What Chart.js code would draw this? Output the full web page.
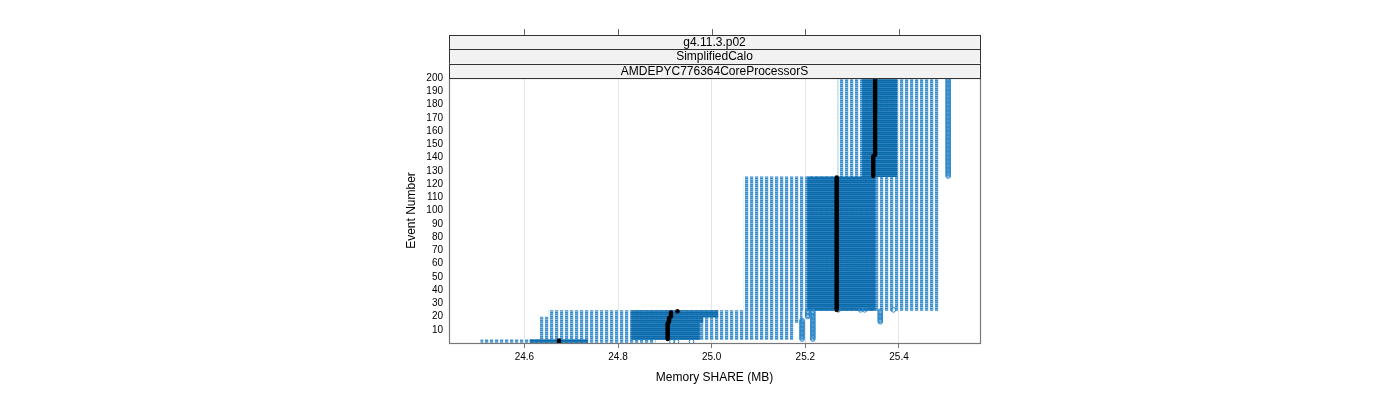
<!DOCTYPE html>
<html><head><meta charset="utf-8">
<script src="https://cdn.jsdelivr.net/npm/chart.js@4"></script>
<style>html,body{margin:0;padding:0;background:#fff}canvas{display:block}</style>
</head><body>
<canvas id="c" width="1400" height="400"></canvas>
<script>
// ---- data ----
const stripLabels = ["g4.11.3.p02", "SimplifiedCalo", "AMDEPYC776364CoreProcessorS"];
const xTitle = "Memory SHARE (MB)";
const yTitle = "Event Number";
const xTickValues = [24.6, 24.8, 25.0, 25.2, 25.4];
const xTickLabels = ["24.6", "24.8", "25.0", "25.2", "25.4"];
const yTickValues = [10,20,30,40,50,60,70,80,90,100,110,120,130,140,150,160,170,180,190,200];

// box-and-whisker statistics per block of events
const groupFirstEvent = [1, 3, 16, 20, 24, 25, 126, 142];
const groupLastEvent  = [2, 15, 19, 23, 24, 125, 141, 200];
const whiskerLow  = [24.507, 24.633, 24.633, 24.652, 24.652, 25.069, 25.270, 25.270];
const boxLow      = [24.612, 24.829, 24.829, 24.829, 24.829, 25.205, 25.322, 25.322];
const medianValue = [24.674, 24.906, 24.909, 24.913, 24.927, 25.267, 25.345, 25.349];
const boxHigh     = [24.735, 24.974, 24.981, 25.013, 25.013, 25.349, 25.395, 25.395];
const whiskerHigh = [24.879, 25.174, 25.193, 25.193, 25.193, 25.484, 25.484, 25.484];

// outliers
const outlierFirstEvent = [1, 1, 1, 3, 3, 20, 16, 25, 25, 25, 25, 126];
const outlierLastEvent  = [1, 1, 1, 17, 24, 24, 24, 25, 25, 25, 25, 200];
const outlierValue      = [24.915, 24.925, 24.957, 25.193, 25.216, 25.205, 25.360, 25.270, 25.318, 25.327, 25.388, 25.505];

// ---- build library tables ----
const whiskerData = [], boxData = [], medianData = [], outlierData = [];
groupFirstEvent.forEach((first, g) => {
  for (let e = first; e <= groupLastEvent[g]; e++) {
    whiskerData.push({ y: e, x: [whiskerLow[g], whiskerHigh[g]] });
    boxData.push({ y: e, x: [boxLow[g], boxHigh[g]] });
    medianData.push({ x: medianValue[g], y: e });
  }
});
outlierFirstEvent.forEach((first, k) => {
  for (let e = first; e <= outlierLastEvent[k]; e++) outlierData.push({ x: outlierValue[k], y: e });
});

const canvas = document.getElementById('c');
const mainCtx = canvas.getContext('2d');
function makePattern(w, h, paint) {
  const t = document.createElement('canvas'); t.width = w; t.height = h;
  const g = t.getContext('2d'); paint(g);
  return mainCtx.createPattern(t, 'repeat');
}
const whiskerFill = makePattern(5, 4, g => {
  const rows = ['#3a8ccb', '#66a8d9', '#3a8ccb', '#86bce2'];
  for (let r = 0; r < 4; r++) { g.fillStyle = rows[r]; g.fillRect(0, r, 3, 1); }
  g.fillStyle = '#d8e8f5'; g.fillRect(3, 0, 1, 4);
  g.fillStyle = '#ffffff'; g.fillRect(4, 0, 1, 4);
});
const boxFill = makePattern(1, 4, g => {
  const rows = ['#0b69a8', '#1b76b6', '#0b69a8', '#2c82c0'];
  for (let r = 0; r < 4; r++) { g.fillStyle = rows[r]; g.fillRect(0, r, 1, 1); }
});

const FONT = 'Liberation Sans, Arial, Helvetica, sans-serif';
Chart.defaults.font.family = FONT;

const panelDecor = {
  id: 'panelDecor',
  afterDraw(chart) {
    const { ctx, chartArea: a, scales: { x } } = chart;
    ctx.save();
    // panel border
    ctx.strokeStyle = '#777'; ctx.lineWidth = 1.2;
    ctx.strokeRect(a.left + 0.5, a.top + 0.5, a.right - a.left, a.bottom - a.top);
    // strips
    const stripTop = 35;
    const sh = (a.top - stripTop) / stripLabels.length;
    ctx.font = '12px ' + FONT; ctx.textAlign = 'center'; ctx.textBaseline = 'middle';
    stripLabels.forEach((lab, i) => {
      const y0 = stripTop + i * sh;
      ctx.fillStyle = '#f2f2f2';
      ctx.fillRect(a.left, y0, a.right - a.left + 1, sh);
      ctx.strokeStyle = '#333'; ctx.lineWidth = 1;
      ctx.strokeRect(a.left + 0.5, Math.round(y0) + 0.5, a.right - a.left, Math.round(y0 + sh) - Math.round(y0));
      ctx.fillStyle = '#000';
      ctx.fillText(lab, (a.left + a.right) / 2, y0 + sh / 2 + 0.5);
    });
    // top ticks
    ctx.strokeStyle = '#666'; ctx.lineWidth = 1;
    xTickValues.forEach(v => {
      const px = Math.round(x.getPixelForValue(v)) + 0.5;
      ctx.beginPath(); ctx.moveTo(px, 29); ctx.lineTo(px, stripTop); ctx.stroke();
    });
    // axis titles
    ctx.fillStyle = '#000'; ctx.font = '12px ' + FONT;
    ctx.fillText(xTitle, (a.left + a.right) / 2, 378);
    ctx.translate(412, (a.top + a.bottom) / 2);
    ctx.rotate(-Math.PI / 2);
    ctx.fillText(yTitle, 0, 0);
    ctx.restore();
  }
};

new Chart(canvas, {
  type: 'bar',
  data: {
    datasets: [
      { type: 'scatter', data: medianData, order: 0, pointRadius: 2.2, backgroundColor: '#000', borderWidth: 0, pointStyle: 'circle' },
      { type: 'scatter', data: outlierData, order: 1, pointRadius: 2.3, backgroundColor: 'rgba(0,0,0,0)', borderColor: '#2a86c8', borderWidth: 1, pointStyle: 'circle' },
      { type: 'bar', data: boxData, order: 2, grouped: false, barPercentage: 1, categoryPercentage: 1, backgroundColor: boxFill, borderWidth: 0, borderSkipped: false },
      { type: 'bar', data: whiskerData, order: 3, grouped: false, barPercentage: 1, categoryPercentage: 1, backgroundColor: whiskerFill, borderWidth: 0, borderSkipped: false }
    ]
  },
  options: {
    indexAxis: 'y',
    responsive: false, animation: false, events: [], devicePixelRatio: 1,
    layout: { padding: { left: 400, right: 420, top: 78, bottom: 0 } },
    plugins: { legend: { display: false }, tooltip: { enabled: false } },
    scales: {
      x: {
        type: 'linear', min: 24.439, max: 25.573, offset: false, beginAtZero: false,
        afterBuildTicks: s => { s.ticks = xTickValues.map(v => ({ value: v })); },
        afterFit: s => { s.height = 57; },
        ticks: { callback: (v, i) => xTickLabels[i], font: { size: 10 }, color: '#000', padding: 3, maxRotation: 0, autoSkip: false },
        grid: { color: '#e6e6e6', tickColor: '#777', tickLength: 5, drawOnChartArea: true, offset: false },
        border: { display: false }
      },
      y: {
        type: 'linear', min: 0, max: 200, offset: false, beginAtZero: false,
        afterBuildTicks: s => { s.ticks = yTickValues.map(v => ({ value: v })); },
        afterFit: s => { s.width = 49; },
        ticks: { callback: (v, i) => String(yTickValues[i]), font: { size: 10 }, color: '#000', padding: 6, autoSkip: false },
        grid: { display: false, drawTicks: false, offset: false },
        border: { display: false }
      }
    }
  },
  plugins: [panelDecor]
});
</script>
</body></html>
